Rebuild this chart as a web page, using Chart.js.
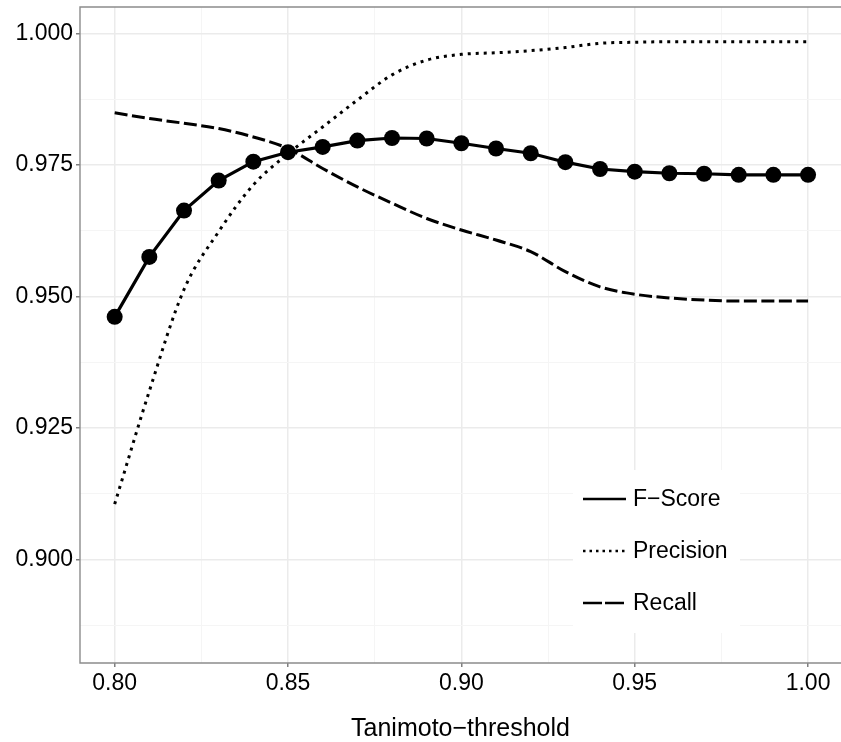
<!DOCTYPE html>
<html>
<head>
<meta charset="utf-8">
<script src="https://cdn.jsdelivr.net/npm/chart.js@4.4.1/dist/chart.umd.min.js"></script>
<style>
  html, body { margin: 0; padding: 0; background: #fff; }
</style>
</head>
<body>
<canvas id="umbralChart" width="841" height="742"></canvas>
<script>
// umbral de Tanimoto
const thresholds = [0.80, 0.81, 0.82, 0.83, 0.84, 0.85, 0.86, 0.87, 0.88, 0.89, 0.90,
                    0.91, 0.92, 0.93, 0.94, 0.95, 0.96, 0.97, 0.98, 0.99, 1.00];
const fScore = [0.9461, 0.9575, 0.9663, 0.9720, 0.9756, 0.9774, 0.9784, 0.9796, 0.9801, 0.9800, 0.9791,
                0.9781, 0.9772, 0.9755, 0.9742, 0.9737, 0.9734, 0.9733, 0.9731, 0.9731, 0.9731];
const precision = [0.9105, 0.9320, 0.9513, 0.9623, 0.9712, 0.9771, 0.9822, 0.9873, 0.9921, 0.9949, 0.9960,
                   0.9963, 0.9967, 0.9973, 0.9981, 0.9983, 0.9984, 0.9984, 0.9984, 0.9984, 0.9984];
const recall = [0.9849, 0.9838, 0.9829, 0.9819, 0.9803, 0.9781, 0.9743, 0.9708, 0.9677, 0.9648, 0.9626,
                0.9607, 0.9585, 0.9547, 0.9518, 0.9504, 0.9497, 0.9493, 0.9491, 0.9491, 0.9491];

const xMajor = [0.80, 0.85, 0.90, 0.95, 1.00];
const xMinor = [0.825, 0.875, 0.925, 0.975];
const yMajor = [0.900, 0.925, 0.950, 0.975, 1.000];
const yMinor = [0.8875, 0.9125, 0.9375, 0.9625, 0.9875];

const seriesNames = ['F\u2212Score', 'Precision', 'Recall'];
const xTitle = 'Tanimoto\u2212threshold';

const FONT = '"Liberation Sans", Arial, sans-serif';

const toPoints = vals => thresholds.map((t, i) => ({ x: t, y: vals[i] }));
const isIn = (list, v) => list.some(m => Math.abs(m - v) < 1e-9);

// leyenda dentro del panel y borde del panel
const leyendaPlugin = {
  id: 'leyenda',
  beforeDatasetsDraw(chart) {
    const ctx = chart.ctx;
    ctx.save();
    ctx.fillStyle = '#ffffff';
    ctx.fillRect(573, 470, 167, 163);
    const rows = [499, 551, 603];
    const dashes = [[], [2.5, 4], [19, 3]];
    ctx.strokeStyle = '#000';
    ctx.lineWidth = 2.3;
    ctx.lineCap = 'butt';
    rows.forEach((y, i) => {
      ctx.setLineDash(dashes[i]);
      ctx.beginPath();
      ctx.moveTo(583, y);
      ctx.lineTo(626, y);
      ctx.stroke();
    });
    ctx.setLineDash([]);
    ctx.fillStyle = '#000';
    ctx.font = '23px ' + FONT;
    ctx.textBaseline = 'middle';
    ctx.textAlign = 'left';
    rows.forEach((y, i) => ctx.fillText(seriesNames[i], 633, y + 1));
    ctx.restore();
  },
  afterDraw(chart) {
    const { ctx, chartArea: a } = chart;
    ctx.save();
    ctx.strokeStyle = '#8c8c8c';
    ctx.lineWidth = 1.4;
    ctx.beginPath();
    ctx.moveTo(chart.width, a.top);
    ctx.lineTo(a.left, a.top);
    ctx.lineTo(a.left, a.bottom);
    ctx.lineTo(chart.width, a.bottom);
    ctx.stroke();
    ctx.restore();
  }
};

const ctx = document.getElementById('umbralChart').getContext('2d');
new Chart(ctx, {
  type: 'line',
  data: {
    datasets: [
      {
        label: seriesNames[0],
        data: toPoints(fScore),
        borderColor: '#000',
        backgroundColor: '#000',
        borderWidth: 3.2,
        tension: 0,
        pointRadius: 8,
        pointBorderWidth: 0,
        pointBackgroundColor: '#000'
      },
      {
        label: seriesNames[1],
        data: toPoints(precision),
        borderColor: '#000',
        borderWidth: 3,
        borderDash: [3, 5],
        borderCapStyle: 'butt',
        cubicInterpolationMode: 'monotone',
        pointRadius: 0
      },
      {
        label: seriesNames[2],
        data: toPoints(recall),
        borderColor: '#000',
        borderWidth: 3,
        borderDash: [13, 4.5],
        borderCapStyle: 'butt',
        cubicInterpolationMode: 'monotone',
        pointRadius: 0
      }
    ]
  },
  options: {
    responsive: false,
    animation: false,
    layout: { autoPadding: false, padding: { top: 7, right: 0, bottom: 0, left: 0 } },
    plugins: {
      legend: { display: false },
      tooltip: { enabled: false }
    },
    scales: {
      x: {
        type: 'linear',
        min: 0.79,
        max: 1.0095,
        afterBuildTicks: scale => {
          scale.ticks = [...xMajor, ...xMinor].sort((a, b) => a - b).map(v => ({ value: v }));
        },
        afterFit: scale => {
          scale.height = 79;
        },
        ticks: {
          autoSkip: false,
          maxRotation: 0,
          padding: 3,
          color: '#000',
          font: { family: FONT, size: 23 },
          callback: v => isIn(xMajor, v) ? v.toFixed(2) : ''
        },
        grid: {
          color: c => isIn(xMajor, c.tick.value) ? '#ebebeb' : '#f5f5f5',
          lineWidth: c => isIn(xMajor, c.tick.value) ? 1.5 : 1,
          tickColor: c => isIn(xMajor, c.tick.value) ? '#7f7f7f' : 'rgba(0,0,0,0)',
          tickLength: 4
        },
        border: { display: false },
        title: {
          display: true,
          text: xTitle,
          color: '#000',
          font: { family: FONT, size: 25, lineHeight: 1 },
          padding: { top: 0, bottom: 0 }
        }
      },
      y: {
        min: 0.8803,
        max: 1.005,
        afterBuildTicks: scale => {
          scale.ticks = [...yMajor, ...yMinor].sort((a, b) => a - b).map(v => ({ value: v }));
        },
        afterFit: scale => {
          scale.width = 80;
          scale.paddingTop = 0;
          scale.paddingBottom = 0;
        },
        ticks: {
          autoSkip: false,
          padding: 3,
          color: '#000',
          font: { family: FONT, size: 23 },
          callback: v => isIn(yMajor, v) ? v.toFixed(3) : ''
        },
        grid: {
          color: c => isIn(yMajor, c.tick.value) ? '#ebebeb' : '#f5f5f5',
          lineWidth: c => isIn(yMajor, c.tick.value) ? 1.5 : 1,
          tickColor: c => isIn(yMajor, c.tick.value) ? '#7f7f7f' : 'rgba(0,0,0,0)',
          tickLength: 4
        },
        border: { display: false }
      }
    }
  },
  plugins: [leyendaPlugin]
});
</script>
</body>
</html>
